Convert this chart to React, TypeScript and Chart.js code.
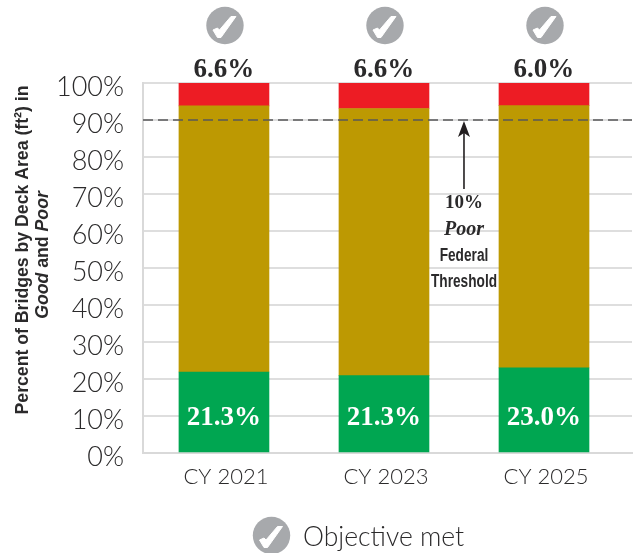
import React, { useEffect, useRef } from "react";
import { Chart, registerables } from "chart.js";

Chart.register(...registerables);

const categories = ["CY 2021", "CY 2023", "CY 2025"];
const goodValues = [21.9, 20.9, 23.0];
const middleValues = [71.9, 72.2, 70.9];
const poorValues = [6.2, 6.9, 6.1];
const poorLabels = ["6.6%", "6.6%", "6.0%"];
const goodLabels = ["21.3%", "21.3%", "23.0%"];
const thresholdValue = 90;
const thresholdLines = ["10%", "Poor", "Federal", "Threshold"];
const legendText = "Objective met";

const TICK_FONT = "Lato";
const SERIF = "'Liberation Serif'";
const SANS = "'Liberation Sans'";
const DARK = "#2b2a2b";

function drawCheck(ctx: CanvasRenderingContext2D, cx: number, cy: number) {
  ctx.save();
  ctx.fillStyle = "#a7a9ac";
  ctx.beginPath();
  ctx.arc(cx, cy, 18.7, 0, Math.PI * 2);
  ctx.fill();
  ctx.fillStyle = "#fff";
  ctx.strokeStyle = "#fff";
  ctx.lineWidth = 1;
  ctx.lineJoin = "round";
  const pts = [[-12, 4.5], [-7.5, 2.5], [-5.5, 4.5], [6, -9], [11, -9], [-4, 12], [-7.5, 12]];
  ctx.beginPath();
  pts.forEach(([x, y], i) => (i ? ctx.lineTo(cx + x, cy + y) : ctx.moveTo(cx + x, cy + y)));
  ctx.closePath();
  ctx.fill();
  ctx.stroke();
  ctx.restore();
}

function narrowText(ctx: CanvasRenderingContext2D, text: string, x: number, y: number, sx: number) {
  ctx.save();
  ctx.translate(x, y);
  ctx.scale(sx, 1);
  ctx.fillText(text, 0, 0);
  ctx.restore();
}

const annotations = {
  id: "annotations",
  afterDraw(chart: any) {
    const { ctx, scales } = chart;
    const x = scales.x;
    const y = scales.y;
    ctx.save();

    // threshold line
    const ty = y.getPixelForValue(thresholdValue);
    ctx.strokeStyle = "#58585a";
    ctx.lineWidth = 1.6;
    ctx.setLineDash([10, 5]);
    ctx.beginPath();
    ctx.moveTo(x.left, ty);
    ctx.lineTo(x.right, ty);
    ctx.stroke();
    ctx.setLineDash([]);

    // bar labels and check icons
    ctx.textAlign = "center";
    ctx.textBaseline = "middle";
    categories.forEach((_, i) => {
      const cx = x.getPixelForValue(i);
      drawCheck(ctx, cx + 1, 25.5);
      ctx.fillStyle = DARK;
      ctx.font = `bold 27px ${SERIF}`;
      ctx.fillText(poorLabels[i], cx, 70);
      ctx.fillStyle = "#fff";
      ctx.fillText(goodLabels[i], cx, 418);
    });

    // arrow and note
    const ax = x.getPixelForValue(1.5);
    ctx.strokeStyle = "#231f20";
    ctx.fillStyle = "#231f20";
    ctx.lineWidth = 1.6;
    ctx.beginPath();
    ctx.moveTo(ax, 189);
    ctx.lineTo(ax, ty + 10);
    ctx.stroke();
    ctx.beginPath();
    ctx.moveTo(ax, ty + 1);
    ctx.lineTo(ax + 6, ty + 17);
    ctx.lineTo(ax, ty + 13);
    ctx.lineTo(ax - 6, ty + 17);
    ctx.closePath();
    ctx.fill();
    ctx.fillStyle = DARK;
    ctx.font = `bold 19px ${SERIF}`;
    ctx.fillText(thresholdLines[0], ax, 203);
    ctx.font = `italic bold 20px ${SERIF}`;
    ctx.fillText(thresholdLines[1], ax, 230);
    ctx.font = `bold 18px ${SANS}`;
    narrowText(ctx, thresholdLines[2], ax, 256, 0.76);
    narrowText(ctx, thresholdLines[3], ax, 282, 0.76);

    // y axis title
    const segs1 = [{ t: "Percent of Bridges by Deck Area (ft²) in", f: `bold 19px ${SANS}` }];
    const segs2 = [
      { t: "Good", f: `italic bold 19px ${SANS}` },
      { t: " and ", f: `bold 19px ${SANS}` },
      { t: "Poor", f: `italic bold 19px ${SANS}` },
    ];
    const drawLine = (segs: { t: string; f: string }[], px: number, py: number) => {
      ctx.save();
      ctx.translate(px, py);
      ctx.rotate(-Math.PI / 2);
      ctx.scale(0.93, 1);
      ctx.textAlign = "left";
      let total = 0;
      segs.forEach((s) => {
        ctx.font = s.f;
        total += ctx.measureText(s.t).width;
      });
      let cur = -total / 2;
      segs.forEach((s) => {
        ctx.font = s.f;
        ctx.fillText(s.t, cur, 0);
        cur += ctx.measureText(s.t).width;
      });
      ctx.restore();
    };
    drawLine(segs1, 23, 250);
    drawLine(segs2, 43, 255);

    // legend
    drawCheck(ctx, 271.5, 535.5);
    ctx.fillStyle = DARK;
    ctx.textAlign = "left";
    ctx.font = `300 26.5px ${TICK_FONT}`;
    ctx.fillText(legendText, 303, 537);
    ctx.restore();
  },
};

export default function App() {
  const ref = useRef<HTMLCanvasElement>(null);
  useEffect(() => {
    const toPoints = (arr: number[]) => arr.map((v, i) => ({ x: i, y: v }));
    const chart = new Chart(ref.current!, {
      type: "bar",
      data: {
        datasets: [
          { label: "Good", data: toPoints(goodValues), backgroundColor: "#00a651", barThickness: 90 },
          { label: "Fair", data: toPoints(middleValues), backgroundColor: "#bd9902", barThickness: 90 },
          { label: "Poor", data: toPoints(poorValues), backgroundColor: "#ed1c24", barThickness: 90 },
        ],
      } as any,
      options: {
        responsive: false,
        animation: false,
        layout: { padding: { top: 83, right: 1, left: 0, bottom: 0 } },
        plugins: { legend: { display: false }, tooltip: { enabled: false }, title: { display: false } },
        scales: {
          x: {
            type: "linear",
            stacked: true,
            offset: false,
            min: -0.506,
            max: 2.55,
            afterBuildTicks: (s: any) => {
              s.ticks = categories.map((_, i) => ({ value: i }));
            },
            afterFit: (s: any) => {
              s.height = 100;
            },
            grid: { display: false, drawTicks: false },
            border: { color: "#d9d9d9", width: 2 },
            ticks: {
              padding: 11,
              maxRotation: 0,
              autoSkip: false,
              labelOffset: 2,
              color: DARK,
              font: { family: TICK_FONT, size: 22, weight: "300" },
              callback: (v: any) => categories[v] ?? "",
            },
          },
          y: {
            stacked: true,
            min: 0,
            max: 100,
            afterFit: (s: any) => {
              s.width = 143;
            },
            grid: { color: "#dedede", lineWidth: 2, drawTicks: false },
            border: { color: "#d9d9d9", width: 2 },
            ticks: {
              stepSize: 10,
              padding: 19,
              labelOffset: 4,
              color: DARK,
              font: { family: TICK_FONT, size: 27, weight: "300" },
              callback: (v: any) => `${v}%`,
            },
          },
        },
      } as any,
      plugins: [annotations],
    });
    return () => chart.destroy();
  }, []);
  return (
    <div style={{ position: "absolute", left: 0, top: 0, width: 633, height: 553 }}>
      <canvas ref={ref} width={633} height={553} style={{ display: "block" }} />
    </div>
  );
}
